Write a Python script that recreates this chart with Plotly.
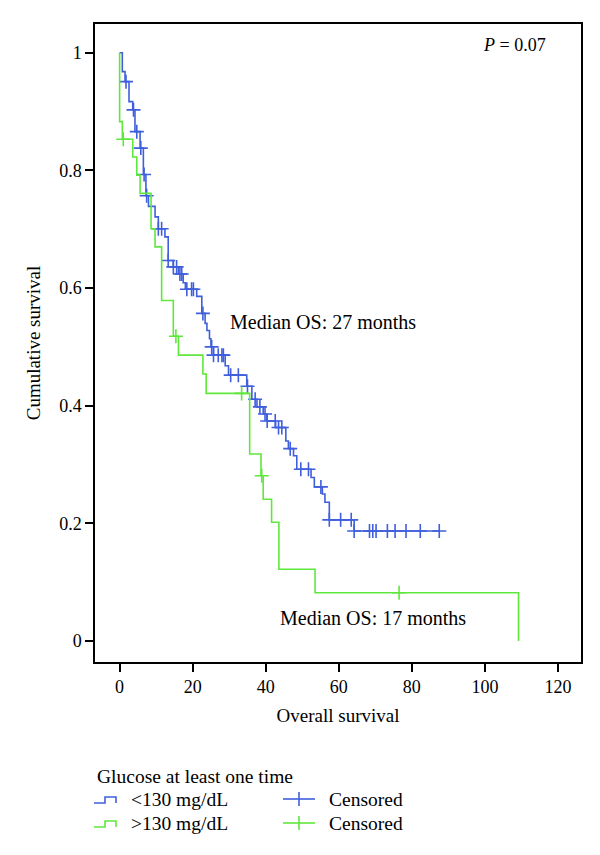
import plotly.graph_objects as go

# ---------------- data ----------------
blue_times = [0, 0.74, 1.48, 2.57, 3.59, 4.2, 5.6, 6.5, 7.2, 7.9, 9.7, 10.6, 12.4, 13.3, 14.7,
              16.1, 17.4, 18.0, 21.1, 22.5, 23.4, 23.9, 24.6, 25.0, 25.7, 28.9, 29.8, 34.8,
              36.2, 37.6, 39.3, 40.3, 42.7, 45.5, 46.2, 47.6, 48.5, 52.4, 53.3, 55.5, 56.2,
              57.4, 64.2]
blue_surv = [1.0, 0.968, 0.951, 0.917, 0.903, 0.866, 0.838, 0.793, 0.757, 0.739, 0.721, 0.701,
             0.687, 0.647, 0.636, 0.624, 0.609, 0.598, 0.586, 0.557, 0.540, 0.528, 0.514, 0.500,
             0.486, 0.468, 0.452, 0.433, 0.411, 0.398, 0.386, 0.374, 0.363, 0.340, 0.327, 0.315,
             0.292, 0.278, 0.262, 0.250, 0.236, 0.206, 0.187]
blue_censored = [1.75, 3.8, 4.7, 5.8, 6.7, 7.4, 10.6, 11.5, 13.3, 14.7, 15.6, 16.5, 17.0, 18.4,
                 19.7, 20.2, 22.8, 25.2, 25.7, 27.0, 28.0, 28.4, 30.4, 32.5, 35.0, 37.1, 38.4,
                 39.8, 40.4, 42.6, 43.5, 44.4, 46.7, 49.6, 51.7, 55.1, 57.4, 60.5, 63.4, 64.2,
                 68.4, 69.3, 70.2, 73.3, 75.4, 78.4, 82.3, 87.5]

green_times = [0, 0, 0.74, 3.6, 4.7, 5.6, 8.6, 9.7, 11.5, 14.7, 16.1, 22.8, 23.7, 35.6, 38.7,
               39.3, 41.6, 43.6, 53.5, 109.2]
green_surv = [1.0, 0.883, 0.853, 0.823, 0.792, 0.761, 0.701, 0.670, 0.579, 0.518, 0.486, 0.454,
              0.421, 0.318, 0.281, 0.241, 0.202, 0.122, 0.082, 0.0]
green_censored = [1.0, 15.4, 33.4, 38.9, 76.5]

x_ticks = [0, 20, 40, 60, 80, 100, 120]
y_ticks = [0, 0.2, 0.4, 0.6, 0.8, 1]
y_ticktext = ["0", "0.2", "0.4", "0.6", "0.8", "1"]

group_names = ["<130 mg/dL", ">130 mg/dL"]
legend_title = "Glucose at least one time"
p_text = "<i>P</i> = 0.07"
median_blue = "Median OS: 27 months"
median_green = "Median OS: 17 months"

BLUE = "#3f5fdc"
GREEN = "#5fe83c"
FONT = "Liberation Serif"


def step_value(times, surv, t):
    val = surv[0]
    for ti, si in zip(times, surv):
        if ti <= t:
            val = si
    return val


fig = go.Figure()


def add_curve(times, surv, cens, color, name):
    xs = list(times)
    ys = list(surv)
    if cens and max(cens) > xs[-1]:
        xs.append(max(cens))
        ys.append(ys[-1])
    fig.add_trace(go.Scatter(x=xs, y=ys, mode="lines", line_shape="hv",
                             line=dict(color=color, width=1.6), name=name, showlegend=False))
    fig.add_trace(go.Scatter(x=cens, y=[step_value(times, surv, c) for c in cens],
                             mode="markers", name="Censored", showlegend=False,
                             marker=dict(symbol="cross-thin", size=10, color=color,
                                         line=dict(color=color, width=1.6))))


add_curve(blue_times, blue_surv, blue_censored, BLUE, group_names[0])
add_curve(green_times, green_surv, green_censored, GREEN, group_names[1])

# ---------------- layout ----------------
# the page body has an 8px margin, so the figure is drawn 8px smaller and
# reference pixel positions are shifted by OFF
OFF = 8
W, H = 600 - OFF, 855 - OFF
L, R, T, B = 95 - OFF, 19, 24 - OFF, 193
pw, ph = W - L - R, H - T - B


def px(x):
    return (x - OFF - L) / pw


def py(y):
    return (H - B - (y - OFF)) / ph


axis_common = dict(showline=True, linecolor="black", linewidth=1.5, mirror=True,
                   ticks="outside", ticklen=8, tickwidth=1.5, tickcolor="black",
                   showgrid=False, zeroline=False,
                   tickfont=dict(family=FONT, size=18, color="black"))

fig.update_layout(
    width=W, height=H,
    margin=dict(l=L, r=R, t=T, b=B),
    paper_bgcolor="white", plot_bgcolor="white",
    font=dict(family=FONT, size=18, color="black"),
    xaxis=dict(range=[-6.74, 126.3], tickvals=x_ticks,
               title=dict(text="Overall survival", standoff=12,
                          font=dict(family=FONT, size=19, color="black")),
               **axis_common),
    yaxis=dict(range=[-0.0357, 1.049], tickvals=y_ticks, ticktext=y_ticktext,
               title=dict(text="Cumulative survival", standoff=14,
                          font=dict(family=FONT, size=19, color="black")),
               **axis_common),
    showlegend=False,
)

# in-plot annotations
fig.add_annotation(x=117.3, y=1.0136, text=p_text, showarrow=False, xanchor="right",
                   font=dict(family=FONT, size=18, color="black"))
fig.add_annotation(x=29.7, y=0.5425, text=median_blue, showarrow=False, xanchor="left",
                   font=dict(family=FONT, size=20, color="black"))
fig.add_annotation(x=43.4, y=0.039, text=median_green, showarrow=False, xanchor="left",
                   font=dict(family=FONT, size=20, color="black"))

# manual legend
fig.add_annotation(xref="paper", yref="paper", x=px(95), y=py(776), text=legend_title,
                   showarrow=False, xanchor="left", yanchor="middle",
                   font=dict(family=FONT, size=19.5, color="black"))
rows = [(799, BLUE, group_names[0]), (823, GREEN, group_names[1])]
for yc, col, name in rows:
    path = "M {} {} L {} {} L {} {} L {} {} L {} {}".format(
        px(94), py(yc + 4), px(105), py(yc + 4), px(105), py(yc - 2),
        px(116), py(yc - 2), px(116), py(yc + 4))
    fig.add_shape(type="path", path=path, xref="paper", yref="paper",
                  line=dict(color=col, width=1.6))
    fig.add_annotation(xref="paper", yref="paper", x=px(129), y=py(yc), text=name,
                       showarrow=False, xanchor="left", yanchor="middle",
                       font=dict(family=FONT, size=19.5, color="black"))
    fig.add_shape(type="line", xref="paper", yref="paper", x0=px(283), x1=px(315),
                  y0=py(yc), y1=py(yc), line=dict(color=col, width=1.6))
    fig.add_shape(type="line", xref="paper", yref="paper", x0=px(299), x1=px(299),
                  y0=py(yc - 7), y1=py(yc + 7), line=dict(color=col, width=1.6))
    fig.add_annotation(xref="paper", yref="paper", x=px(327), y=py(yc), text="Censored",
                       showarrow=False, xanchor="left", yanchor="middle",
                       font=dict(family=FONT, size=19.5, color="black"))

fig.write_html("out.html")
